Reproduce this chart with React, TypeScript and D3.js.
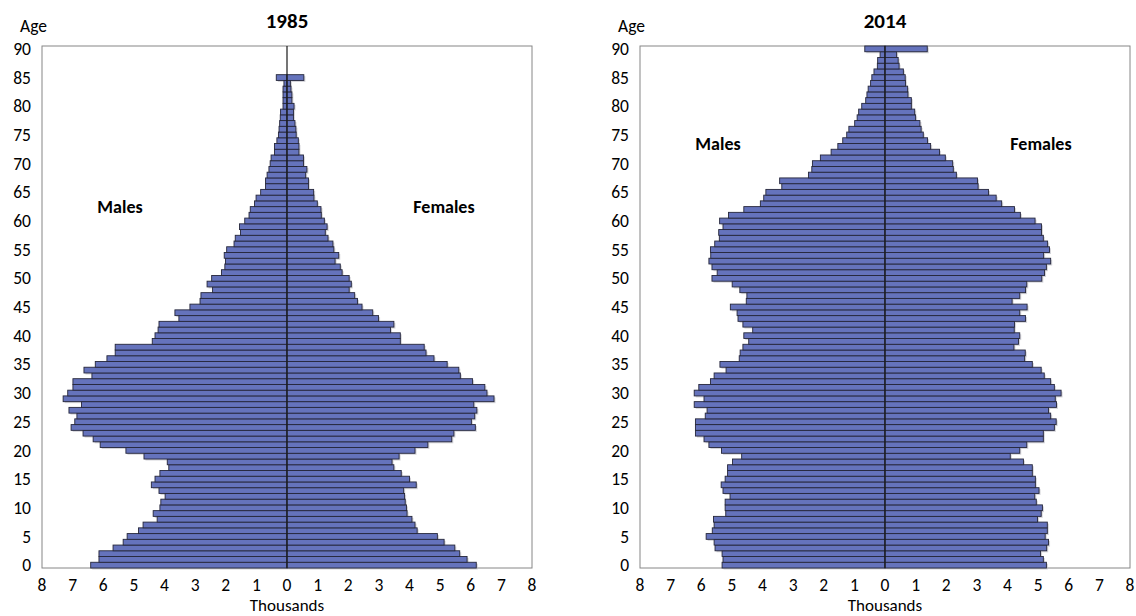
import React from "react";
import * as d3 from "d3";

const ageTicks = [0, 5, 10, 15, 20, 25, 30, 35, 40, 45, 50, 55, 60, 65, 70, 75, 80, 85, 90];
const xTicks = [-8, -7, -6, -5, -4, -3, -2, -1, 0, 1, 2, 3, 4, 5, 6, 7, 8];

// 1985, ages 0..85 (thousands)
const males1985 = [
  6.41, 6.14, 6.14, 5.68, 5.35, 5.22, 4.85, 4.70, 4.24, 4.37,
  4.15, 4.12, 3.98, 4.18, 4.43, 4.31, 4.15, 3.86, 3.91, 4.67,
  5.26, 6.10, 6.33, 6.66, 7.05, 6.93, 6.86, 7.12, 6.71, 7.31,
  7.16, 6.99, 6.99, 6.37, 6.63, 6.26, 5.88, 5.61, 5.61, 4.40,
  4.31, 4.21, 4.18, 3.53, 3.66, 3.17, 2.84, 2.81, 2.43, 2.61,
  2.46, 2.14, 2.03, 2.01, 2.05, 1.97, 1.73, 1.69, 1.52, 1.55,
  1.38, 1.24, 1.20, 1.06, 1.01, 0.86, 0.70, 0.70, 0.65, 0.59,
  0.55, 0.52, 0.41, 0.41, 0.33, 0.28, 0.26, 0.24, 0.22, 0.21,
  0.13, 0.13, 0.13, 0.13, 0.10, 0.35,
];
const females1985 = [
  6.18, 5.88, 5.64, 5.48, 5.13, 4.91, 4.25, 4.18, 4.08, 3.92,
  3.90, 3.86, 3.84, 3.81, 4.22, 4.00, 3.73, 3.49, 3.43, 3.66,
  4.18, 4.60, 5.38, 5.45, 6.15, 6.02, 6.13, 6.20, 6.10, 6.76,
  6.53, 6.46, 6.06, 5.66, 5.61, 5.23, 4.80, 4.54, 4.48, 3.70,
  3.70, 3.38, 3.49, 2.99, 2.80, 2.45, 2.30, 2.21, 2.03, 2.10,
  2.03, 1.80, 1.74, 1.57, 1.69, 1.53, 1.50, 1.34, 1.25, 1.31,
  1.22, 1.12, 1.11, 0.99, 0.88, 0.87, 0.70, 0.70, 0.61, 0.65,
  0.54, 0.54, 0.39, 0.39, 0.37, 0.30, 0.29, 0.26, 0.21, 0.21,
  0.23, 0.16, 0.16, 0.13, 0.11, 0.55,
];

// 2014, ages 0..90 (thousands)
const males2014 = [
  5.32, 5.29, 5.32, 5.55, 5.58, 5.84, 5.64, 5.58, 5.60, 5.20,
  5.22, 5.22, 5.06, 5.29, 5.35, 5.22, 5.14, 5.14, 4.98, 4.68,
  5.34, 5.75, 5.91, 6.19, 6.19, 6.19, 5.87, 5.81, 6.23, 5.91,
  6.23, 6.08, 5.70, 5.58, 5.19, 5.39, 4.76, 4.73, 4.64, 4.45,
  4.61, 4.32, 4.64, 4.80, 4.83, 5.05, 4.53, 4.51, 4.74, 4.99,
  5.65, 5.48, 5.65, 5.75, 5.69, 5.70, 5.56, 5.41, 5.43, 5.29,
  5.40, 5.11, 4.61, 4.07, 3.96, 3.89, 3.37, 3.44, 2.50, 2.39,
  2.37, 2.11, 1.76, 1.54, 1.38, 1.25, 1.18, 0.99, 0.91, 0.86,
  0.76, 0.63, 0.59, 0.55, 0.47, 0.43, 0.36, 0.25, 0.24, 0.16,
  0.66,
];
const females2014 = [
  5.27, 5.17, 5.08, 5.28, 5.34, 5.23, 5.30, 5.30, 4.98, 5.10,
  5.14, 4.94, 4.89, 5.03, 4.91, 4.91, 4.81, 4.81, 4.52, 4.09,
  4.40, 4.63, 5.17, 5.17, 5.53, 5.59, 5.41, 5.34, 5.60, 5.56,
  5.75, 5.53, 5.41, 5.20, 5.10, 4.81, 4.56, 4.58, 4.21, 4.36,
  4.40, 4.22, 4.23, 4.59, 4.40, 4.64, 4.15, 4.40, 4.59, 4.63,
  5.12, 5.21, 5.27, 5.41, 5.18, 5.37, 5.31, 5.17, 5.11, 5.11,
  4.90, 4.42, 4.23, 3.81, 3.63, 3.38, 3.04, 3.02, 2.33, 2.23,
  2.21, 1.97, 1.78, 1.49, 1.39, 1.25, 1.18, 1.14, 1.00, 0.97,
  0.86, 0.86, 0.75, 0.74, 0.67, 0.66, 0.60, 0.46, 0.43, 0.38,
  1.38,
];

const FONT = "Calibri, Carlito, Lato, sans-serif";
const BAR_FILL = "#6573BC";
const BAR_STROKE = "#25263a";

type PyrProps = {
  title: string;
  males: number[];
  females: number[];
  left: number;
  right: number;
  labelY: number;
  malesX: number;
  femalesX: number;
};

function Pyramid({ title, males, females, left, right, labelY, malesX, femalesX }: PyrProps) {
  const top = 46;
  const bottom = 568;
  const x = d3.scaleLinear().domain([-8, 8]).range([left, right]);
  const ages = d3.range(0, 91);
  const y = d3.scaleBand<number>().domain(ages.slice().reverse()).range([top, bottom]).padding(0);
  const bw = y.bandwidth();
  const cx = x(0);
  const rows = males.map((m, i) => ({ age: i, m, f: females[i] }));

  return (
    <g>
      <rect x={left} y={top} width={right - left} height={bottom - top} fill="white" stroke="#868686" strokeWidth={1} />
      {rows.map((r) => (
        <g key={"s" + r.age} fill="#b8b8c0" opacity={0.6}>
          <rect x={x(-r.m) + 1.5} y={(y(r.age) as number) + 1.5} width={cx - x(-r.m)} height={bw} />
          <rect x={cx + 1.5} y={(y(r.age) as number) + 1.5} width={x(r.f) - cx} height={bw} />
        </g>
      ))}
      {rows.map((r) => (
        <g key={"b" + r.age} fill={BAR_FILL} stroke={BAR_STROKE} strokeWidth={0.9}>
          <rect x={x(-r.m)} y={y(r.age)} width={cx - x(-r.m)} height={bw} />
          <rect x={cx} y={y(r.age)} width={x(r.f) - cx} height={bw} />
        </g>
      ))}
      <line x1={cx} x2={cx} y1={top} y2={bottom} stroke="#1a1a1a" strokeWidth={1.2} />
      {ageTicks.map((a) => (
        <text key={"y" + a} x={left - 11} y={(y(a) as number) + bw / 2} dy="0.35em" textAnchor="end"
          fontFamily={FONT} fontSize={17.5} fill="#000">{a}</text>
      ))}
      {xTicks.map((t) => (
        <text key={"x" + t} x={x(t)} y={591} textAnchor="middle" fontFamily={FONT} fontSize={17.5} fill="#000">
          {Math.abs(t)}
        </text>
      ))}
      <text x={cx} y={611} textAnchor="middle" fontFamily={FONT} fontSize={17} fill="#000">Thousands</text>
      <text x={left - 22} y={32} fontFamily={FONT} fontSize={17.5} fill="#000">Age</text>
      <text x={cx} y={28} textAnchor="middle" fontFamily={FONT} fontSize={21} fontWeight="bold" fill="#000">{title}</text>
      <text x={malesX} y={labelY} textAnchor="middle" fontFamily={FONT} fontSize={18} fontWeight="bold" fill="#000">Males</text>
      <text x={femalesX} y={labelY} textAnchor="middle" fontFamily={FONT} fontSize={18} fontWeight="bold" fill="#000">Females</text>
    </g>
  );
}

export default function App() {
  return (
    <div style={{ position: "absolute", left: 0, top: 0 }}>
      <svg width={1136} height={616} viewBox="0 0 1136 616" style={{ display: "block", background: "#fff" }}>
        <Pyramid title="1985" males={males1985} females={females1985} left={42} right={532}
          labelY={213} malesX={120} femalesX={444} />
        <Pyramid title="2014" males={males2014} females={females2014} left={640} right={1130}
          labelY={150} malesX={718} femalesX={1041} />
      </svg>
    </div>
  );
}
